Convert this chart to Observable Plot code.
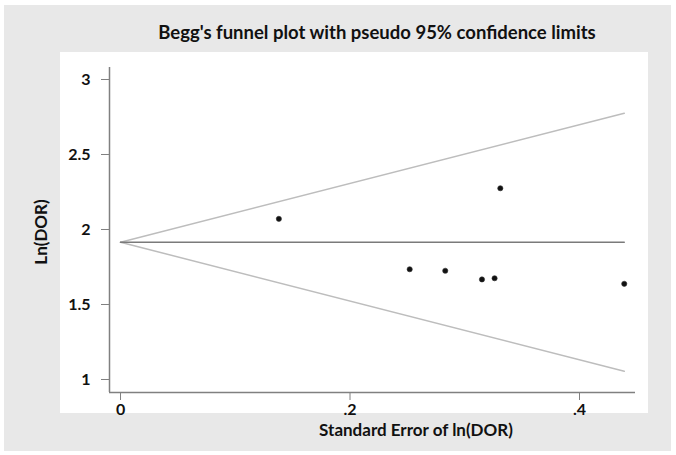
<!DOCTYPE html>
<html>
<head>
<meta charset="utf-8">
<script src="https://cdn.jsdelivr.net/npm/d3@7"></script>
<script src="https://cdn.jsdelivr.net/npm/@observablehq/plot@0.6"></script>
<style>
  html, body { margin: 0; padding: 0; background: #ffffff; }
  #wrap { position: relative; width: 676px; height: 455px; overflow: hidden; font-family: Lato, "Open Sans", sans-serif; }
  #bg { position: absolute; left: 4px; top: 5px; width: 667px; height: 446px; background: #e8e8e8; }
  #panel { position: absolute; left: 60px; top: 52px; width: 588px; height: 361px; background: #ffffff; }
  #title { position: absolute; left: 0; width: 754px; top: 21px; text-align: center; font-weight: 700; font-size: 18.5px; color: #111; }
  #xlabel { position: absolute; left: 0; width: 832px; top: 419px; text-align: center; font-weight: 700; font-size: 17px; color: #111; }
  #ylabel { position: absolute; left: 40px; top: 232px; transform: translate(-50%, -50%) rotate(-90deg); font-weight: 700; font-size: 17px; color: #111; white-space: nowrap; }
  #chart { position: absolute; left: 0; top: 0; }
  #chart svg { background: transparent !important; }
</style>
</head>
<body>
<div id="wrap">
  <div id="bg"></div>
  <div id="panel"></div>
  <div id="chart"></div>
  <div id="title">Begg's funnel plot with pseudo 95% confidence limits</div>
  <div id="xlabel">Standard Error of ln(DOR)</div>
  <div id="ylabel">Ln(DOR)</div>
</div>
<script>
// Study data: standard error of ln(DOR) and ln(DOR)
const se    = [0.138, 0.252, 0.283, 0.315, 0.326, 0.331, 0.439];
const lnDOR = [2.071, 1.735, 1.725, 1.667, 1.675, 2.275, 1.638];
// Pooled estimate (horizontal line)
const pooled = 1.915;
// Axis ticks
const xTicks = [0, 0.2, 0.4];
const xTickLabels = ["0", ".2", ".4"];
const yTicks = [1, 1.5, 2, 2.5, 3];
const yTickLabels = ["1", "1.5", "2", "2.5", "3"];
// Axis extents
const xDomain = [-0.0096, 0.4488];
const yDomain = [0.9133, 3.08];

const points = se.map((s, i) => ({se: s, y: lnDOR[i]}));
const seMax = d3.max(se);
const funnel = [0, seMax];
const upper = funnel.map(s => ({se: s, y: pooled + 1.96 * s}));
const lower = funnel.map(s => ({se: s, y: pooled - 1.96 * s}));
const center = funnel.map(s => ({se: s, y: pooled}));

const chart = Plot.plot({
  width: 676,
  height: 455,
  marginLeft: 109,
  marginRight: 41,
  marginTop: 67,
  marginBottom: 63,
  style: {background: "transparent", fontFamily: "Lato, 'Open Sans', sans-serif"},
  x: {domain: xDomain},
  y: {domain: yDomain},
  marks: [
    Plot.ruleX([xDomain[0]], {stroke: "#808080", strokeWidth: 1.5}),
    Plot.ruleY([yDomain[0]], {stroke: "#808080", strokeWidth: 1.5}),
    Plot.axisX({ticks: xTicks, tickFormat: (d) => xTickLabels[xTicks.indexOf(d)], tickSize: 8, tickPadding: 3, stroke: "#808080", fill: "#111", fontWeight: "bold", fontSize: 16, label: null}),
    Plot.axisY({ticks: yTicks, tickFormat: (d) => yTickLabels[yTicks.indexOf(d)], tickSize: 8, tickPadding: 11, stroke: "#808080", fill: "#111", fontWeight: "bold", fontSize: 16, label: null}),
    Plot.line(upper, {x: "se", y: "y", stroke: "#bdbdbd", strokeWidth: 1.5}),
    Plot.line(lower, {x: "se", y: "y", stroke: "#bdbdbd", strokeWidth: 1.5}),
    Plot.line(center, {x: "se", y: "y", stroke: "#7a7a7a", strokeWidth: 1.5}),
    Plot.dot(points, {x: "se", y: "y", r: 2.6, fill: "#111", stroke: "#333", strokeWidth: 0.6})
  ]
});
document.getElementById("chart").appendChild(chart);
</script>
</body>
</html>
